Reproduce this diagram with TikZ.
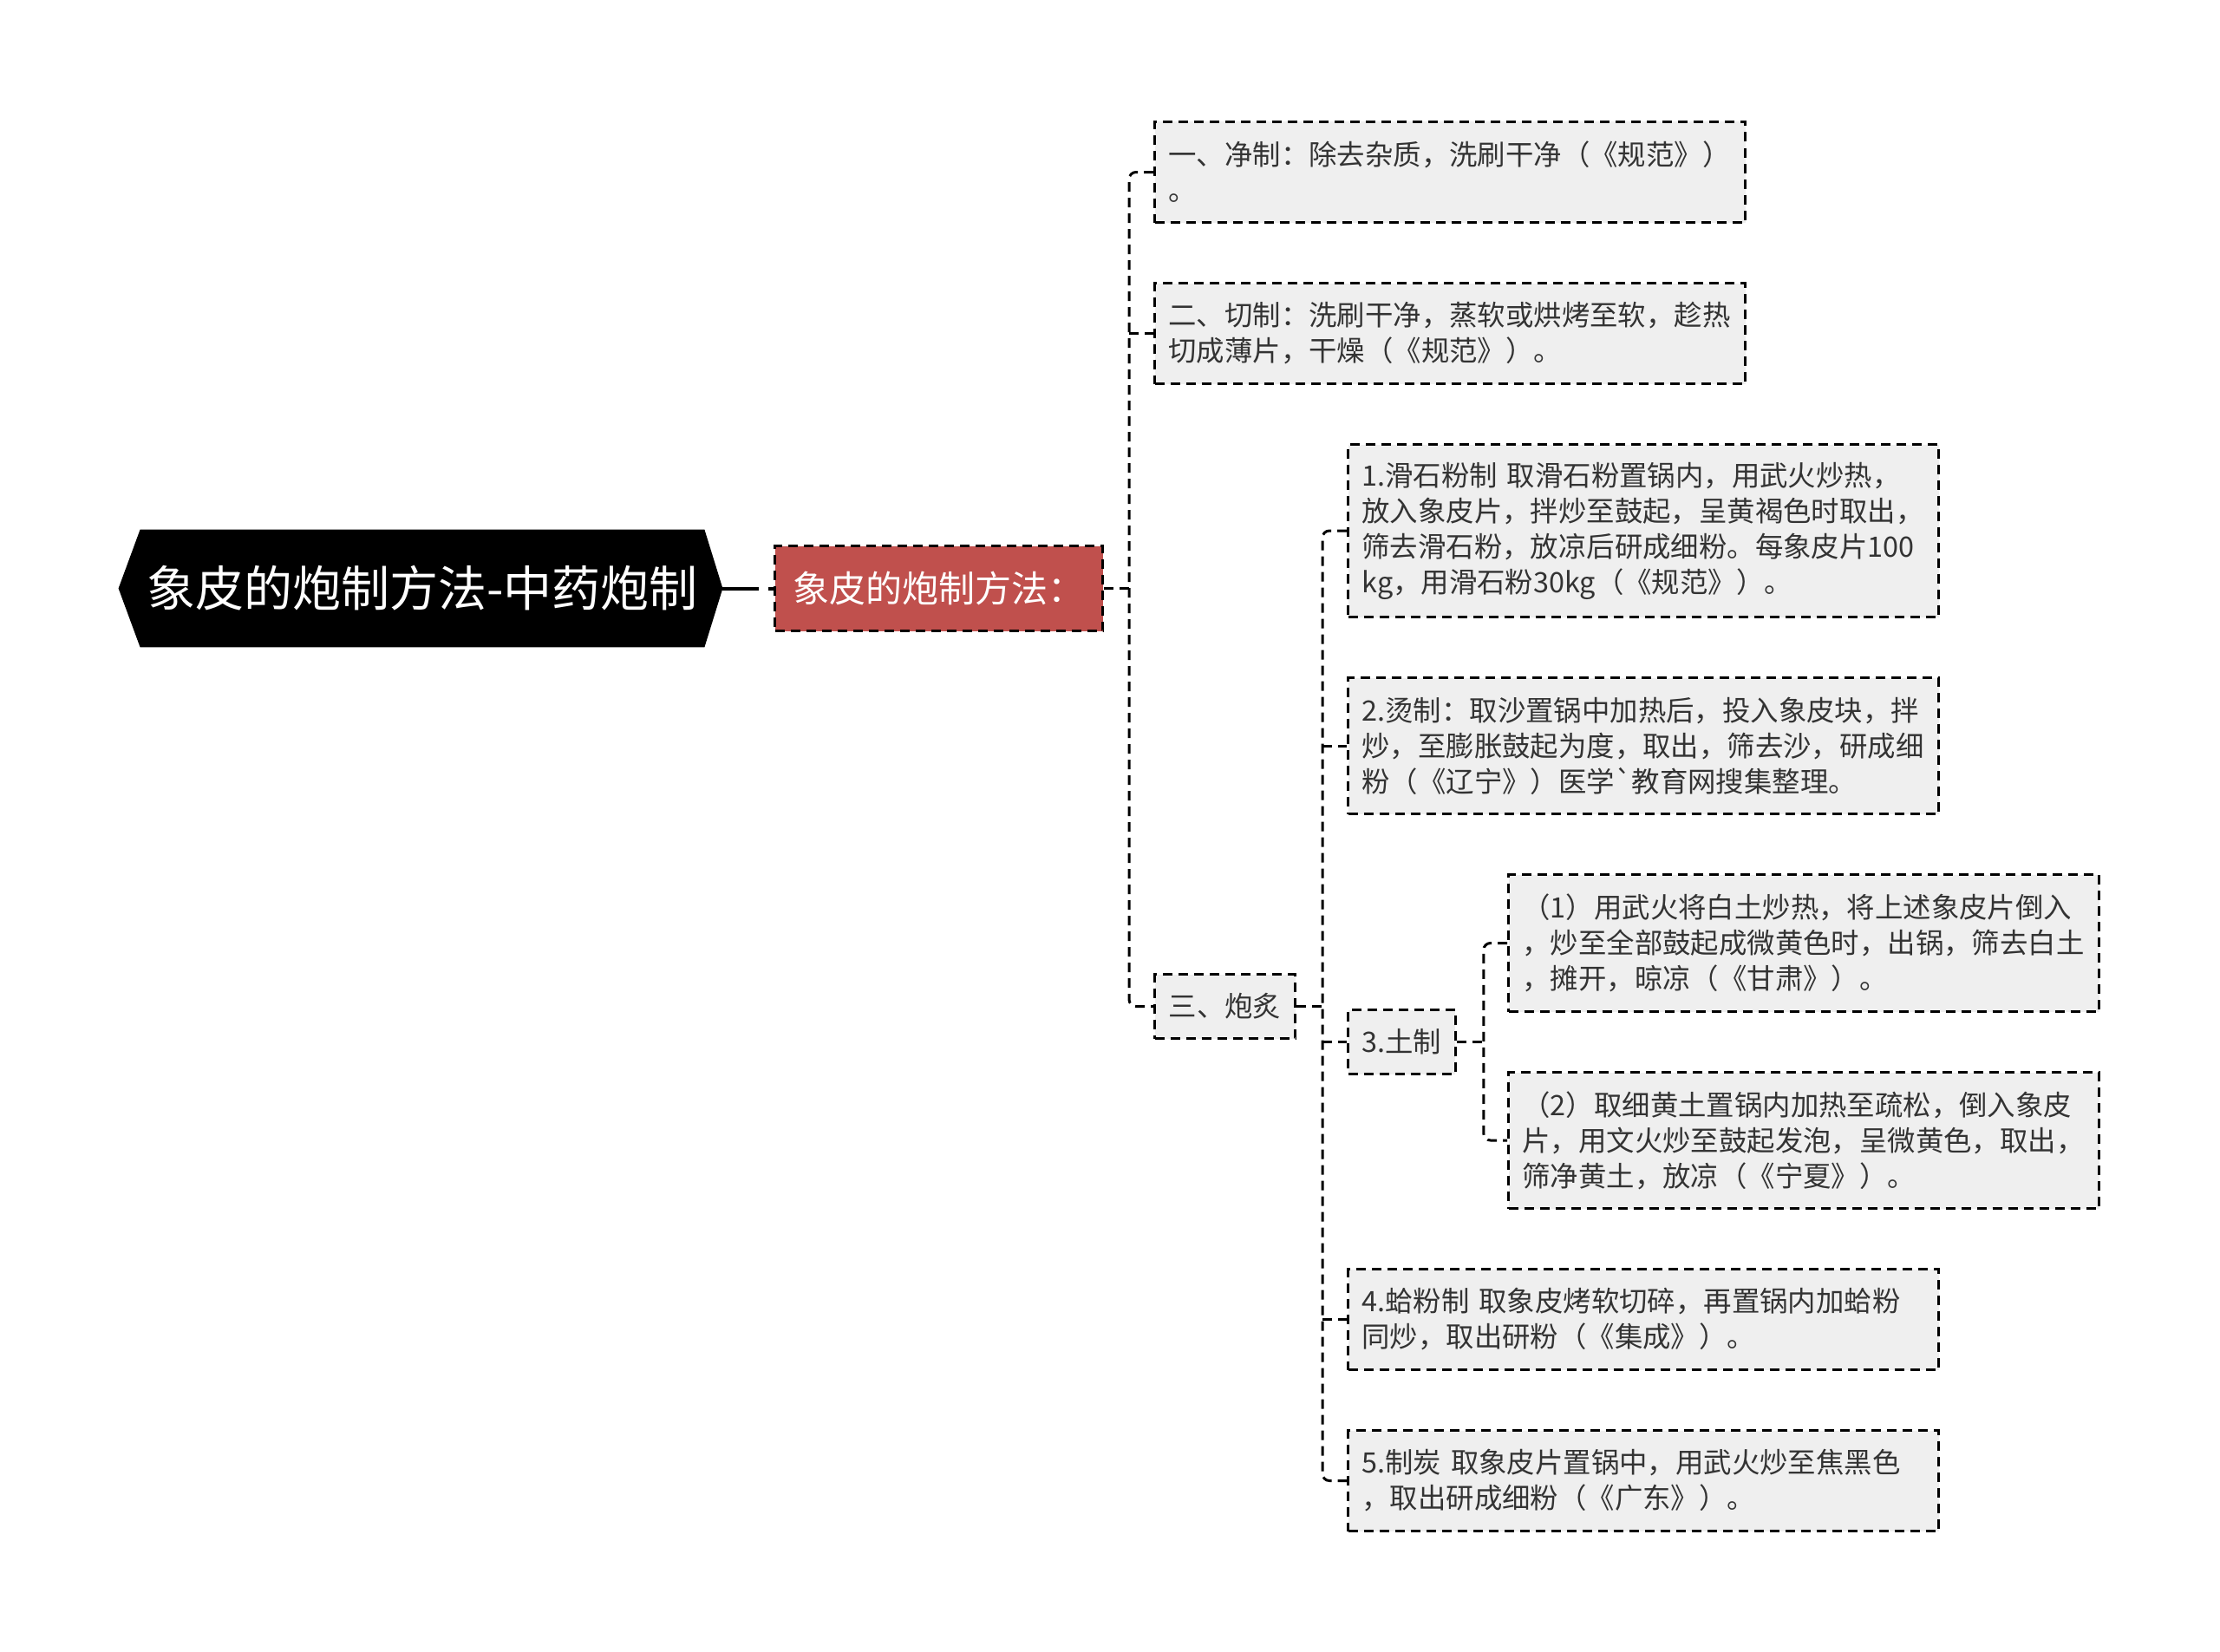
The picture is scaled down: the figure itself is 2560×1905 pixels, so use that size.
\documentclass[tikz,border=0pt]{standalone}
\usepackage{fontspec}
\newfontfamily\cjk{Noto Sans CJK SC}
\usetikzlibrary{backgrounds,calc}
\definecolor{boxfill}{HTML}{EFEFEF}
\definecolor{redfill}{HTML}{C0504D}
\definecolor{txt}{HTML}{333333}
\tikzset{
  dsh/.style={line width=1.5pt, dash pattern=on 5.5pt off 3.5pt},
  gbox/.style={dsh, draw=black, fill=boxfill, text=txt,
    font=\cjk\fontsize{16.2pt}{20.5pt}\selectfont, align=left,
    inner xsep=8pt, inner ysep=0pt, anchor=north west},
  widebox/.style={gbox, text width=324.5pt},
  conn/.style={dsh, draw=black, rounded corners=4pt},
}
\begin{document}
\begin{tikzpicture}[x=0.5pt,y=-0.5pt]
\useasboundingbox (0,0) rectangle (2560,1905);

% root
\node[text=white, font=\cjk\fontsize{28pt}{32pt}\selectfont, minimum width=325pt,
  minimum height=67.5pt, inner sep=0pt] (root) at (487,678.5) {象皮的炮制方法-中药炮制};
\coordinate (roottip) at ([xshift=10.5pt]root.east);
\coordinate (rootleft) at ([xshift=-12.5pt]root.west);
\begin{scope}[on background layer]
\fill[black] (root.north west) -- (root.north east) -- (roottip) -- (root.south east)
  -- (root.south west) -- (rootleft) -- cycle;
\end{scope}

% level 1
\node[dsh, draw=black, fill=redfill, text=white, font=\cjk\fontsize{21pt}{24pt}\selectfont,
  minimum width=189pt, minimum height=49pt, inner sep=0pt, anchor=north west]
  (red) at (892,628) {象皮的炮制方法：};

% level 2
\node[widebox, minimum height=58pt] (b1) at (1330,139)
  {一、净制：除去杂质，洗刷干净（《规范》）\\。};
\node[widebox, minimum height=58pt] (b2) at (1330,325)
  {二、切制：洗刷干净，蒸软或烘烤至软，趁热\\切成薄片，干燥（《规范》）。};
\node[gbox, minimum width=81pt, minimum height=37pt] (b3) at (1330,1122) {三、炮炙};

% level 3
\node[widebox, minimum height=99.5pt] (c1) at (1553,511)
  {1.滑石粉制 取滑石粉置锅内，用武火炒热，\\放入象皮片，拌炒至鼓起，呈黄褐色时取出，\\筛去滑石粉，放凉后研成细粉。每象皮片100\\kg，用滑石粉30kg（《规范》）。};
\node[widebox, minimum height=78.5pt] (c2) at (1553,780)
  {2.烫制：取沙置锅中加热后，投入象皮块，拌\\炒，至膨胀鼓起为度，取出，筛去沙，研成细\\粉（《辽宁》）医学\textasciigrave 教育网搜集整理。};
\node[gbox, minimum width=61.5pt, minimum height=37pt] (c3) at (1553,1163) {3.土制};
\node[widebox, minimum height=58pt] (c4) at (1553,1462)
  {4.蛤粉制 取象皮烤软切碎，再置锅内加蛤粉\\同炒，取出研粉（《集成》）。};
\node[widebox, minimum height=58pt] (c5) at (1553,1648)
  {5.制炭 取象皮片置锅中，用武火炒至焦黑色\\，取出研成细粉（《广东》）。};

% level 4
\node[widebox, minimum height=79pt] (s1) at (1738,1007)
  {（1）用武火将白土炒热，将上述象皮片倒入\\，炒至全部鼓起成微黄色时，出锅，筛去白土\\，摊开，晾凉（《甘肃》）。};
\node[widebox, minimum height=78.5pt] (s2) at (1738,1235)
  {（2）取细黄土置锅内加热至疏松，倒入象皮\\片，用文火炒至鼓起发泡，呈微黄色，取出，\\筛净黄土，放凉（《宁夏》）。};

% connectors
\draw[line width=2pt, dash pattern=on 21pt off 5.5pt on 10pt off 3pt] (roottip) -- (red.west);

\coordinate (t1) at ($(red.east)+(14.5pt,0)$);
\draw[conn] (red.east) -- (t1);
\draw[conn] (b1.west) -| (t1) |- (b3.west);
\draw[conn] (t1 |- b2.west) -- (b2.west);

\coordinate (t2) at ($(b3.east)+(15pt,0)$);
\draw[conn] (b3.east) -- (t2);
\draw[conn] (c1.west) -| (t2) |- (c5.west);
\draw[conn] (t2 |- c2.west) -- (c2.west);
\draw[conn] (t2 |- c3.west) -- (c3.west);
\draw[conn] (t2 |- c4.west) -- (c4.west);

\coordinate (t3) at ($(c3.east)+(15.5pt,0)$);
\draw[conn] (c3.east) -- (t3);
\draw[conn] (s1.west) -| (t3) |- (s2.west);
\end{tikzpicture}
\end{document}
